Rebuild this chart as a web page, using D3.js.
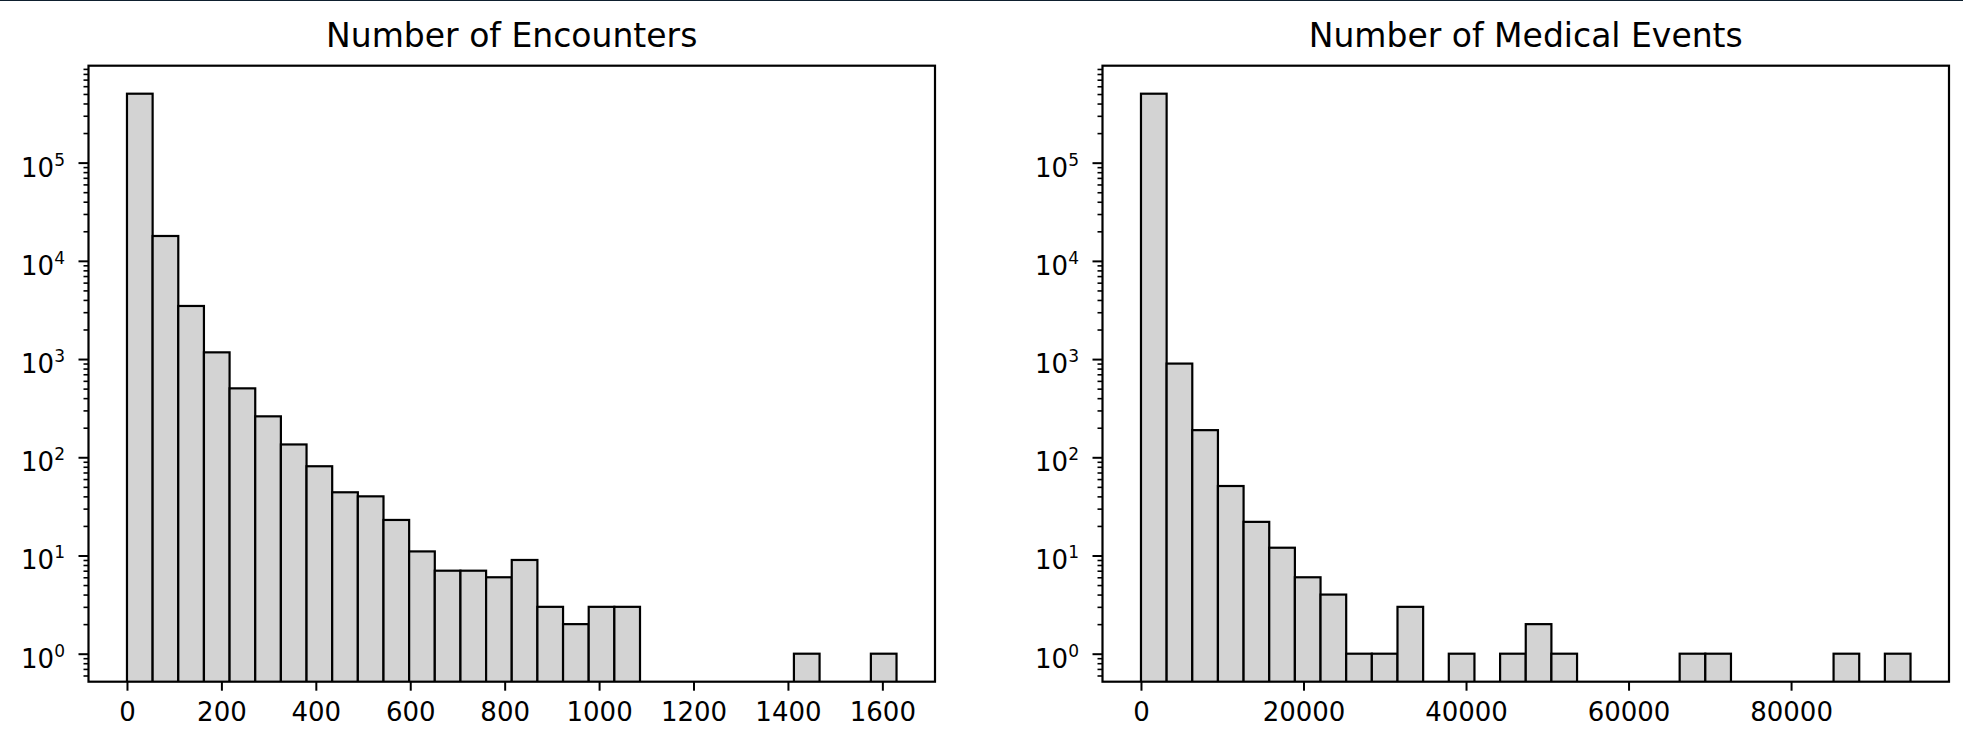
<!DOCTYPE html>
<html>
<head>
<meta charset="utf-8">
<script src="https://cdn.jsdelivr.net/npm/d3@7"></script>
<style>
  body { margin: 0; background: #fff; }
</style>
</head>
<body>
<div id="chart"></div>
<script>
// counts per bin (30 equal bins from 0 to the max value)
const encounterCounts = [503000, 17900, 3470, 1170, 503, 261, 135, 81, 44, 40,
  23, 11, 7, 7, 6, 9, 3, 2, 3, 3,
  0, 0, 0, 0, 0, 0, 1, 0, 0, 1];
const eventCounts = [504000, 900, 189, 51, 22, 12, 6, 4, 1, 1,
  3, 0, 1, 0, 1, 2, 1, 0, 0, 0,
  0, 1, 1, 0, 0, 0, 0, 1, 0, 1];

const encounterRange = [0, 1630];
const eventRange = [0, 94700];

const encounterTicks = [0, 200, 400, 600, 800, 1000, 1200, 1400, 1600];
const eventTicks = [0, 20000, 40000, 60000, 80000];
const yMajor = [1, 10, 100, 1000, 10000, 100000];

const titles = ['Number of Encounters', 'Number of Medical Events'];

const font = "'DejaVu Sans', sans-serif";

const svg = d3.select('#chart')
  .append('svg')
  .attr('width', 1963)
  .attr('height', 742)
  .style('display', 'block');

svg.append('rect').attr('width', 1963).attr('height', 742).attr('fill', '#fff');
// thin dark strip at the top of the screenshot
svg.append('rect').attr('width', 1963).attr('height', 1).attr('fill', '#0e1f2e');

const drawHist = (opts) => {
  const { left, top, width, height, title, counts, range, xTicks, id } = opts;
  const g = svg.append('g').attr('transform', `translate(${left},${top})`);

  const span = range[1] - range[0];
  const x = d3.scaleLinear()
    .domain([range[0] - 0.05 * span, range[1] + 0.05 * span])
    .range([0, width]);

  const hi = Math.log10(d3.max(counts));
  const y = d3.scaleLog()
    .domain([10 ** (-0.05 * hi), 10 ** (1.05 * hi)])
    .range([height, 0]);

  const binW = span / counts.length;
  const bins = counts
    .map((c, i) => ({ x0: range[0] + i * binW, x1: range[0] + (i + 1) * binW, c }))
    .filter((d) => d.c > 0);

  g.append('clipPath').attr('id', id)
    .append('rect').attr('width', width).attr('height', height);

  g.append('g')
    .attr('clip-path', `url(#${id})`)
    .selectAll('rect')
    .data(bins)
    .join('rect')
    .attr('x', (d) => x(d.x0))
    .attr('width', (d) => x(d.x1) - x(d.x0))
    .attr('y', (d) => y(d.c))
    .attr('height', (d) => height + 5 - y(d.c))
    .attr('fill', '#d3d3d3')
    .attr('stroke', '#000')
    .attr('stroke-width', 2.2);

  // minor y ticks
  const [lo, top2] = y.domain();
  const minors = [];
  for (let k = -1; k <= 6; k++) {
    for (let m = 2; m <= 9; m++) {
      const v = m * 10 ** k;
      if (v >= lo && v <= top2) minors.push(v);
    }
  }
  const yMin = g.append('g')
    .call(d3.axisLeft(y).tickValues(minors).tickFormat('').tickSize(5));
  yMin.select('.domain').remove();
  yMin.selectAll('line').attr('stroke-width', 1.6);

  // major y ticks with 10^n labels
  const yAx = g.append('g')
    .call(d3.axisLeft(y).tickValues(yMajor).tickFormat('').tickSize(10));
  yAx.select('.domain').remove();
  yAx.selectAll('line').attr('stroke-width', 2);
  yAx.selectAll('.tick').each(function (d) {
    const t = d3.select(this).append('text')
      .attr('x', -23.5)
      .attr('y', 13.5)
      .attr('text-anchor', 'end')
      .attr('fill', '#000')
      .attr('font-family', font)
      .attr('font-size', 26);
    t.append('tspan').text('10');
    t.append('tspan')
      .attr('dy', -11)
      .attr('font-size', 17)
      .text(Math.round(Math.log10(d)));
  });

  // x axis
  const xAx = g.append('g')
    .attr('transform', `translate(0,${height})`)
    .call(d3.axisBottom(x).tickValues(xTicks).tickFormat(d3.format('d')).tickSize(9).tickPadding(12));
  xAx.select('.domain').remove();
  xAx.selectAll('line').attr('stroke-width', 2);
  xAx.selectAll('text')
    .attr('font-family', font)
    .attr('font-size', 26)
    .attr('fill', '#000');

  // spines
  g.append('rect')
    .attr('width', width)
    .attr('height', height)
    .attr('fill', 'none')
    .attr('stroke', '#000')
    .attr('stroke-width', 2.2);

  g.append('text')
    .attr('x', width / 2)
    .attr('y', -18.4)
    .attr('text-anchor', 'middle')
    .attr('font-family', font)
    .attr('font-size', 33)
    .attr('fill', '#000')
    .text(title);
};

drawHist({
  id: 'clip-enc', left: 88.5, top: 65.7, width: 846.5, height: 616,
  title: titles[0], counts: encounterCounts, range: encounterRange, xTicks: encounterTicks,
});
drawHist({
  id: 'clip-evt', left: 1102.5, top: 65.7, width: 846.5, height: 616,
  title: titles[1], counts: eventCounts, range: eventRange, xTicks: eventTicks,
});
</script>
</body>
</html>
